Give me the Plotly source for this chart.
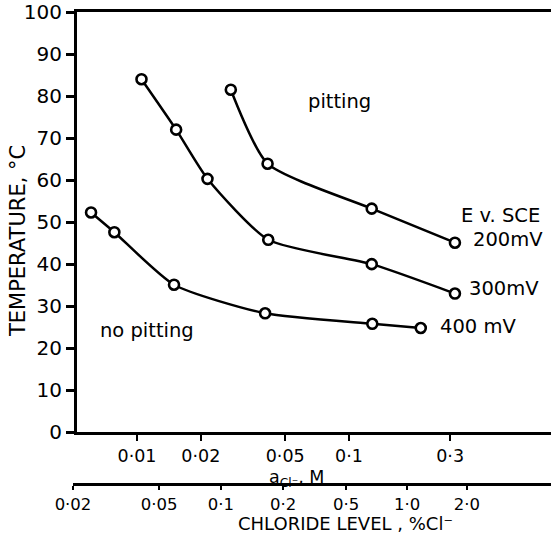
import plotly.graph_objects as go

# Chloride activity (M) and critical pitting temperature (°C) for three potentials
a_200 = [0.0277, 0.0413, 0.128, 0.316]
t_200 = [81.5, 63.9, 53.2, 45.1]

a_300 = [0.0105, 0.0153, 0.0215, 0.0416, 0.128, 0.316]
t_300 = [84.0, 72.0, 60.3, 45.8, 40.0, 33.0]

a_400 = [0.00607, 0.00782, 0.01495, 0.0402, 0.1288, 0.218]
t_400 = [52.3, 47.6, 35.1, 28.3, 25.8, 24.8]

# Activity axis ticks
act_ticks = [0.01, 0.02, 0.05, 0.1, 0.3]
act_labels = ["0·01", "0·02", "0·05", "0·1", "0·3"]

# Chloride level (% Cl-) and the activity each level corresponds to
pct_labels = ["0·02", "0·05", "0·1", "0·2", "0·5", "1·0", "2·0"]
pct_as_activity = [0.00499, 0.0127, 0.0249, 0.0489, 0.0968, 0.188, 0.360]

temp_ticks = list(range(0, 101, 10))

FONT = "DejaVu Sans"
INK = "black"

fig = go.Figure()

curve_style = dict(
    mode="lines+markers",
    line=dict(color=INK, width=2.5, shape="spline", smoothing=0.6),
    marker=dict(symbol="circle", size=10, color="white",
                line=dict(color=INK, width=2.6)),
    showlegend=False,
    hoverinfo="skip",
)

for xs, ys in [(a_200, t_200), (a_300, t_300), (a_400, t_400)]:
    fig.add_trace(go.Scatter(x=xs, y=ys, xaxis="x", yaxis="y", **curve_style))

# Empty trace on its own hidden y axis so the chloride-level axis is drawn
fig.add_trace(go.Scatter(x=[], y=[], xaxis="x2", yaxis="y2",
                         showlegend=False, hoverinfo="skip"))

W, H = 551, 535
ml, mr, mt, mb = 73, 0, 10, 51
plot_w = W - ml - mr
plot_h = H - mt - mb

y_bottom_px = 432
x_left_px = 77
y_dom0 = (H - mb - y_bottom_px) / plot_h
x_dom0 = (x_left_px - ml) / plot_w

px_per_decade = 212.0
x_left_log = -2 + (x_left_px - 137) / px_per_decade
x_right_log = x_left_log + (W - mr - x_left_px) / px_per_decade
x2_left_log = -2 + (ml - 137) / px_per_decade

fig.update_layout(
    width=W, height=H,
    margin=dict(l=ml, r=mr, t=mt, b=mb, pad=0),
    paper_bgcolor="white", plot_bgcolor="rgba(0,0,0,0)",
    font=dict(family=FONT, color=INK),
    xaxis=dict(
        type="log", domain=[x_dom0, 1], range=[x_left_log, x_right_log],
        anchor="y",
        tickmode="array", tickvals=act_ticks, ticktext=act_labels,
        ticks="outside", ticklen=6, tickwidth=2, tickcolor=INK,
        tickfont=dict(size=17.5, family=FONT), ticklabeloverflow="allow",
        showline=True, linewidth=3, linecolor=INK, mirror=True,
        showgrid=False, zeroline=False,
    ),
    xaxis2=dict(
        type="log", domain=[0, 1], range=[x2_left_log, x_right_log],
        anchor="free", position=0,
        tickmode="array", tickvals=pct_as_activity, ticktext=pct_labels,
        ticks="outside", ticklen=4, tickwidth=2, tickcolor=INK,
        tickfont=dict(size=16.5, family=FONT), ticklabeloverflow="allow",
        showline=True, linewidth=2.5, linecolor=INK,
        showgrid=False, zeroline=False,
    ),
    yaxis=dict(
        domain=[y_dom0, 1], range=[0, 100], anchor="x",
        tickmode="array", tickvals=temp_ticks,
        ticks="outside", ticklen=8, tickwidth=2.5, tickcolor=INK,
        tickfont=dict(size=20, family=FONT), ticklabeloverflow="allow",
        showline=True, linewidth=3, linecolor=INK,
        showgrid=False, zeroline=False,
    ),
    yaxis2=dict(
        domain=[0, y_dom0 * 0.5], anchor="x2", visible=False,
        showgrid=False, zeroline=False,
    ),
)


def paper_xy(px, py):
    return (px - ml) / plot_w, (H - mb - py) / plot_h


# Axis titles
titles = [
    ("TEMPERATURE, °C", 18, 240, 21, -90),
    ("a<sub>Cl⁻</sub>, M", 296, 478, 17.5, 0),
    ("CHLORIDE LEVEL , %Cl⁻", 345, 524, 18, 0),
]
for text, px, py, size, angle in titles:
    x, y = paper_xy(px, py)
    fig.add_annotation(
        text=text, xref="paper", yref="paper", x=x, y=y,
        xanchor="center", yanchor="middle", showarrow=False,
        textangle=angle, font=dict(size=size, family=FONT, color=INK),
    )

# Region and potential labels
notes = [
    ("pitting", 339, 100),
    ("no pitting", 147, 330),
    ("E v. SCE", 500, 214),
    ("200mV", 508, 238),
    ("300mV", 504, 288),
    ("400 mV", 478, 326),
]
for text, px, py in notes:
    x, y = paper_xy(px, py)
    fig.add_annotation(
        text=text, xref="paper", yref="paper", x=x, y=y,
        xanchor="center", yanchor="middle", showarrow=False,
        font=dict(size=19.5, family=FONT, color=INK),
    )

fig.write_html("out.html")
